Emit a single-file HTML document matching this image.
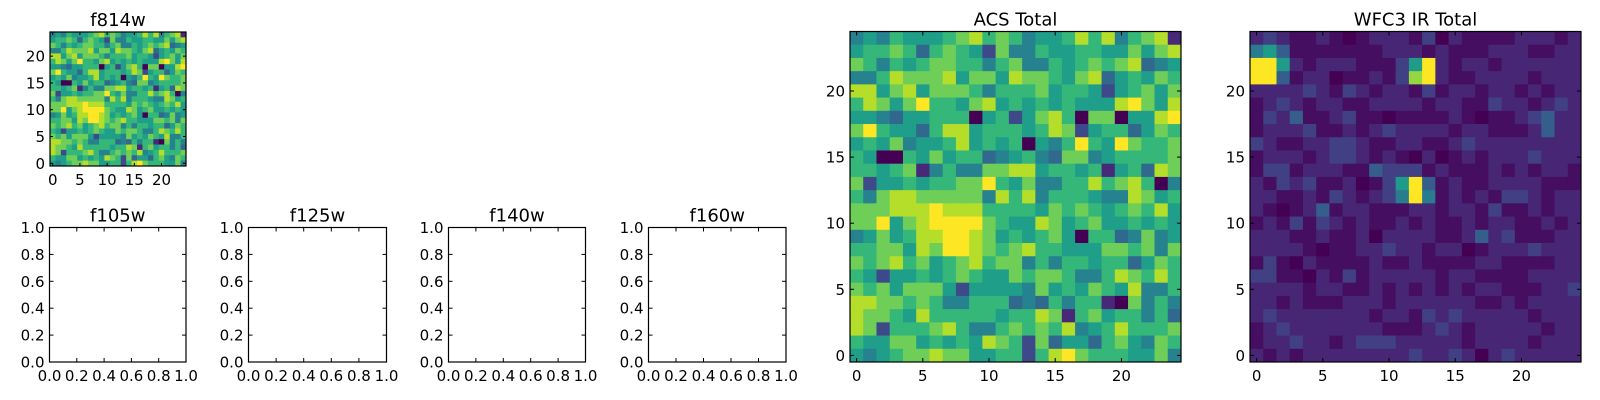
<!DOCTYPE html>
<html><head><meta charset="utf-8"><style>
html,body{margin:0;padding:0;background:#fff;}
svg{display:block;font-family:"DejaVu Sans","Liberation Sans",sans-serif;}
</style></head><body>
<svg id="fig" width="1600" height="400" viewBox="0 0 1600 400" xmlns="http://www.w3.org/2000/svg"></svg>
<script>
// ACS Total image (also shown in f814w), rows from y=24 (top) down to y=0, values on a 0-9 scale
const acsRows = [
[4,5,4,6,5,5,5,6,7,8,6,7,6,4,5,5,6,8,6,8,4,6,7,8,1],
[5,6,6,7,6,3,6,7,6,5,2,7,4,4,6,5,5,6,6,5,5,7,5,7,8],
[7,6,4,6,5,6,7,7,6,6,4,6,7,4,4,6,5,6,7,6,7,8,3,4,5],
[4,4,6,8,7,7,7,8,5,7,7,5,8,7,7,6,5,7,8,3,5,6,5,7,6],
[8,8,5,7,8,5,7,7,7,6,4,6,6,6,7,5,6,6,5,2,5,6,7,5,7],
[6,8,7,5,7,9,6,6,5,7,8,5,6,5,6,5,6,5,5,5,8,9,7,5,8],
[5,5,4,3,5,5,6,6,6,0,5,6,2,5,7,8,6,0,7,7,0,5,5,8,9],
[7,9,6,5,5,3,6,8,8,5,6,6,6,5,6,8,7,2,5,6,6,3,5,7,6],
[5,6,5,7,4,5,5,6,8,5,6,5,6,0,5,4,6,9,6,5,9,7,6,6,7],
[6,5,0,0,6,5,7,5,6,6,3,4,5,6,4,3,7,7,4,5,6,6,6,6,7],
[6,6,5,6,7,1,4,6,4,4,7,7,8,8,5,6,6,5,6,1,5,6,3,8,7],
[7,2,5,5,6,5,6,6,7,7,9,6,5,7,4,4,6,6,8,6,7,8,6,0,4],
[6,4,7,8,8,7,7,7,7,7,4,8,6,8,4,6,6,6,5,4,4,8,7,5,6],
[7,7,7,8,8,8,9,8,8,8,6,6,6,6,5,7,6,7,6,5,6,7,6,8,5],
[7,7,9,5,7,8,9,9,9,9,7,6,5,5,8,7,5,6,7,5,5,6,5,6,5],
[4,5,7,5,6,8,8,9,9,8,7,5,6,5,6,7,5,0,6,6,3,4,7,4,5],
[6,6,7,7,5,8,7,9,9,8,7,6,7,8,6,6,5,5,5,7,7,6,7,4,7],
[7,6,7,8,6,7,5,6,7,8,6,7,7,4,6,4,6,6,5,6,6,3,5,7,6],
[6,5,2,5,5,6,5,6,7,6,5,5,7,6,7,7,6,4,4,6,8,7,6,8,6],
[7,6,7,5,7,7,7,5,2,5,5,5,5,4,7,5,6,5,7,6,5,8,4,4,6],
[8,8,7,7,6,7,6,4,4,6,6,6,3,4,3,6,4,6,6,1,0,7,4,6,4],
[8,7,7,6,5,8,6,6,6,6,6,5,6,6,8,7,1,6,7,5,6,6,4,6,3],
[8,7,2,6,6,6,7,8,6,4,4,6,7,6,7,6,8,4,5,6,8,6,6,6,7],
[6,5,5,7,7,5,6,5,6,5,8,7,6,2,7,3,5,5,3,6,7,5,4,7,6],
[5,4,5,6,7,7,8,7,7,5,5,6,6,2,6,8,9,7,6,6,6,5,5,7,4]
];
// WFC3 IR Total image, rows from y=24 (top) down to y=0
const irRows = [
[2,3,2,1,1,2,1,0,1,2,2,2,1,3,0,2,1,1,1,1,2,2,2,1,2],
[5,6,4,1,1,1,1,1,1,1,2,2,2,1,2,1,1,1,2,2,2,1,1,2,2],
[9,9,6,2,1,2,2,2,1,1,1,3,6,9,2,1,2,2,1,2,2,2,2,2,2],
[9,9,4,1,2,2,0,1,1,2,1,3,8,9,2,1,1,2,2,2,2,1,2,2,2],
[2,2,2,2,3,2,1,3,2,1,2,2,1,3,1,2,2,1,2,2,1,2,1,2,2],
[1,2,3,2,1,2,2,1,1,2,2,2,2,1,2,2,1,1,3,2,2,1,2,3,2],
[1,3,2,4,1,1,2,3,1,1,0,1,1,1,1,2,1,0,1,1,2,3,4,2,2],
[1,2,2,2,3,1,1,2,1,2,3,2,2,2,2,1,2,2,1,1,1,2,4,2,2],
[3,2,1,1,2,2,3,3,2,1,1,2,2,1,1,2,3,2,2,2,2,2,2,2,2],
[1,2,2,2,1,2,3,3,2,1,2,1,0,2,0,1,2,1,2,2,2,3,2,2,2],
[1,3,3,1,2,2,2,1,1,4,3,3,3,1,2,1,1,1,2,1,2,1,2,2,1],
[2,1,3,2,3,1,1,2,0,1,3,6,9,4,1,2,1,1,2,2,2,2,1,1,1],
[2,2,1,1,2,1,3,2,1,2,3,5,9,5,1,2,1,2,1,3,3,2,1,2,2],
[2,1,0,1,2,4,1,2,2,1,1,1,2,2,1,2,2,1,3,1,1,2,1,2,2],
[1,2,1,3,1,3,2,1,2,1,1,2,1,2,1,1,2,1,2,2,1,1,2,1,2],
[2,2,2,1,1,2,1,1,2,0,2,2,2,2,1,1,2,4,2,3,1,1,1,2,2],
[2,2,2,2,1,0,1,1,2,2,3,2,2,1,2,2,0,1,2,2,2,3,2,2,2],
[1,3,1,0,2,1,1,1,1,2,1,1,2,1,1,1,1,2,2,1,1,1,1,2,2],
[3,3,1,1,0,2,1,3,1,2,2,2,2,2,1,2,2,1,1,1,1,2,2,2,2],
[2,2,2,2,1,2,2,1,1,2,1,2,1,2,1,2,1,2,2,1,1,1,2,2,3],
[2,2,1,2,1,1,1,2,2,2,1,2,2,2,2,2,2,1,1,2,1,2,2,2,2],
[2,3,2,2,2,2,2,2,2,1,2,2,1,3,2,3,2,2,2,2,2,1,2,2,2],
[1,2,3,2,2,2,2,2,2,2,1,1,1,2,3,2,1,2,2,2,2,2,1,2,2],
[1,2,2,3,2,2,1,2,3,3,3,2,2,2,2,2,1,2,2,2,2,1,2,2,2],
[2,1,2,1,2,2,2,2,2,2,2,2,3,2,2,3,2,0,2,3,2,2,2,2,2]
];
const imgTicks = [0,5,10,15,20];
const imgTickLabels = ["0","5","10","15","20"];
const unitTicks = [0,0.2,0.4,0.6,0.8,1.0];
const unitTickLabels = ["0.0","0.2","0.4","0.6","0.8","1.0"];

const NS="http://www.w3.org/2000/svg";
const svg=document.getElementById('fig');
const VIR=[[68,1,84],[72,40,120],[62,73,137],[49,104,142],[38,130,142],[31,158,137],[53,183,121],[110,206,88],[181,222,43],[253,231,37]];
function viridis(t){t=Math.max(0,Math.min(1,t))*9;const i=Math.min(8,Math.floor(t)),f=t-i;const a=VIR[i],b=VIR[i+1];
return 'rgb('+a.map((v,k)=>Math.round(v+(b[k]-v)*f)).join(',')+')';}
function el(tag,attrs,parent){const e=document.createElementNS(NS,tag);for(const k in attrs)e.setAttribute(k,attrs[k]);(parent||svg).appendChild(e);return e;}

function axes(name,x0,y0,w,h,xr,yr,xt,xtl,yt,ytl,title,ticklen){
  const g=el('g',{});
  
  
  const sx=v=>x0+(v-xr[0])/(xr[1]-xr[0])*w;
  const sy=v=>y0+h-(v-yr[0])/(yr[1]-yr[0])*h;
  return {g,sx,sy,finish(){
    const fr=el('rect',{x:x0,y:y0,width:w,height:h,fill:'none',stroke:'#000','stroke-width':1.2},g);
    
    
    xt.forEach((v,i)=>{const x=sx(v);
      el('line',{x1:x,x2:x,y1:y0+h,y2:y0+h-ticklen,stroke:'#000','stroke-width':1},g);
      el('line',{x1:x,x2:x,y1:y0,y2:y0+ticklen,stroke:'#000','stroke-width':1},g);
      const t=el('text',{x:x,y:y0+h+19,'text-anchor':'middle','font-size':15,fill:'#000'},g);t.textContent=xtl[i];
      
      
    });
    yt.forEach((v,i)=>{const y=sy(v);
      el('line',{x1:x0,x2:x0+ticklen,y1:y,y2:y,stroke:'#000','stroke-width':1},g);
      el('line',{x1:x0+w,x2:x0+w-ticklen,y1:y,y2:y,stroke:'#000','stroke-width':1},g);
      const t=el('text',{x:x0-5,y:y+5.5,'text-anchor':'end','font-size':15,fill:'#000'},g);t.textContent=ytl[i];
      
      
    });
    const tt=el('text',{x:x0+w/2,y:y0-6,'text-anchor':'middle','font-size':18,fill:'#000'},g);tt.textContent=title;
    
    
  }};
}
function heat(name,x0,y0,w,h,rows,title,tl,gamma){
  const a=axes(name,x0,y0,w,h,[-0.5,24.5],[-0.5,24.5],imgTicks,imgTickLabels,imgTicks,imgTickLabels,title,tl);
  const n=rows.length;
  rows.forEach((row,ri)=>{const yv=n-1-ri;row.forEach((v,c)=>{
    const x1=a.sx(c-0.5),x2=a.sx(c+0.5),y1=a.sy(yv+0.5),y2=a.sy(yv-0.5);
    const r=el('rect',{x:x1,y:y1,width:x2-x1+0.4,height:y2-y1+0.4,fill:viridis(Math.pow(v/9,gamma))},a.g);
    
    
  });});
  a.finish();
}
function blank(name,x0,y0,w,h,title){
  const a=axes(name,x0,y0,w,h,[0,1],[0,1],unitTicks,unitTickLabels,unitTicks,unitTickLabels,title,4);
  a.finish();
}
heat('f814w-panel',50,32,136,134,acsRows,'f814w',3,1);
blank('f105w-panel',49.5,227.5,136.5,134.5,'f105w');
blank('f125w-panel',248.5,227.5,138,134.5,'f125w');
blank('f140w-panel',448.5,227.5,137,134.5,'f140w');
blank('f160w-panel',648.5,227.5,137.5,134.5,'f160w');
heat('acs-total-panel',850,31.5,331,330.5,acsRows,'ACS Total',4,1);
heat('wfc3-ir-total-panel',1250,31.5,331,330.5,irRows,'WFC3 IR Total',4,1.5);
</script>
</body></html>
